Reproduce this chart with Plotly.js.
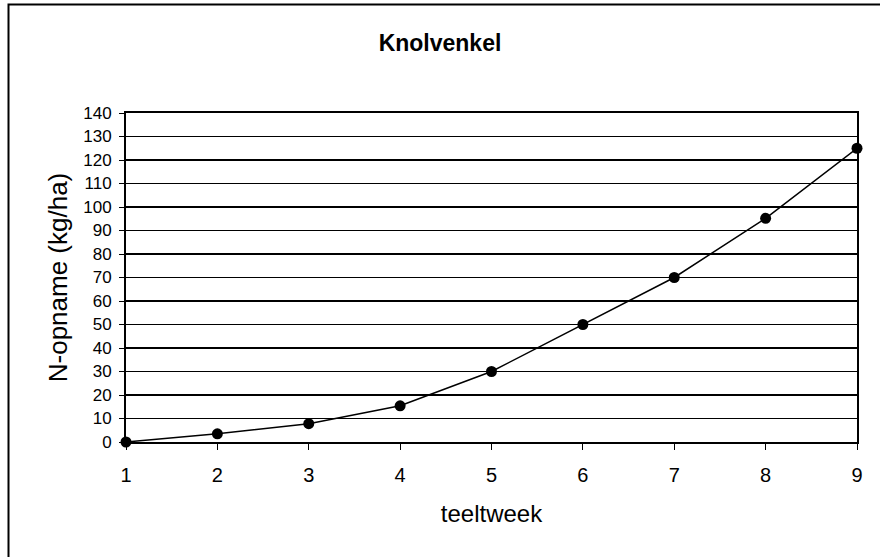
<!DOCTYPE html>
<html><head><meta charset="utf-8">
<script src="https://cdn.plot.ly/plotly-3.0.1.min.js"></script>
<style>html,body{margin:0;padding:0;background:#fff}#c{width:880px;height:557px}</style>
</head><body><div id="c"></div>
<script>
var weeks = [1, 2, 3, 4, 5, 6, 7, 8, 9];
var nUptake = [0, 3.5, 7.8, 15.4, 30, 50, 70, 95.2, 125];
var yTicks = [0, 10, 20, 30, 40, 50, 60, 70, 80, 90, 100, 110, 120, 130, 140];

var L = 126, R = 23, T = 113, B = 115, W = 880, H = 557;
var pw = W - L - R, ph = H - T - B;

var trace = {
  x: weeks, y: nUptake, type: 'scatter', mode: 'lines+markers',
  line: {color: '#000', width: 1.5},
  marker: {color: '#000', size: 11},
  cliponaxis: false, showlegend: false
};
var ff = 'Liberation Sans, Arial, sans-serif';
var layout = {
  width: W, height: H,
  margin: {l: L, r: R, t: T, b: B},
  paper_bgcolor: '#fff', plot_bgcolor: '#fff',
  font: {family: ff, color: '#000'},
  title: {text: '<b>Knolvenkel</b>', x: 0.5, xanchor: 'center', y: 1 - 43/H, yanchor: 'middle',
          font: {family: ff, size: 23, color: '#000'}},
  xaxis: {range: [1, 9], tickvals: weeks, ticks: 'outside', ticklen: 6, tickcolor: '#000', tickwidth: 1,
          ticklabelstandoff: 8,
          showline: true, linecolor: '#000', linewidth: 2, mirror: true, showgrid: false, zeroline: false,
          tickfont: {family: ff, size: 20, color: '#000'},
          title: {text: 'teeltweek', standoff: 20, font: {family: ff, size: 24, color: '#000'}}},
  yaxis: {range: [0, 140], tickvals: yTicks, ticks: 'outside', ticklen: 5, tickcolor: '#000', tickwidth: 1,
          ticklabelstandoff: 4,
          showline: true, linecolor: '#000', linewidth: 2, mirror: true, showgrid: true, gridcolor: '#000', gridwidth: 1.5,
          zeroline: false, tickfont: {family: ff, size: 17, color: '#000'},
          title: {text: 'N-opname (kg/ha)', standoff: 8, font: {family: ff, size: 26, color: '#000'}}},
  shapes: [{type: 'rect', xref: 'paper', yref: 'paper', layer: 'below',
            x0: (8.5 - L)/pw, x1: (W + 10 - L)/pw, y0: (H - B - (H + 10))/ph, y1: (H - B - 4.5)/ph,
            line: {color: '#000', width: 2}, fillcolor: 'rgba(0,0,0,0)'}]
};
Plotly.newPlot('c', [trace], layout, {displayModeBar: false, staticPlot: true});
</script></body></html>
